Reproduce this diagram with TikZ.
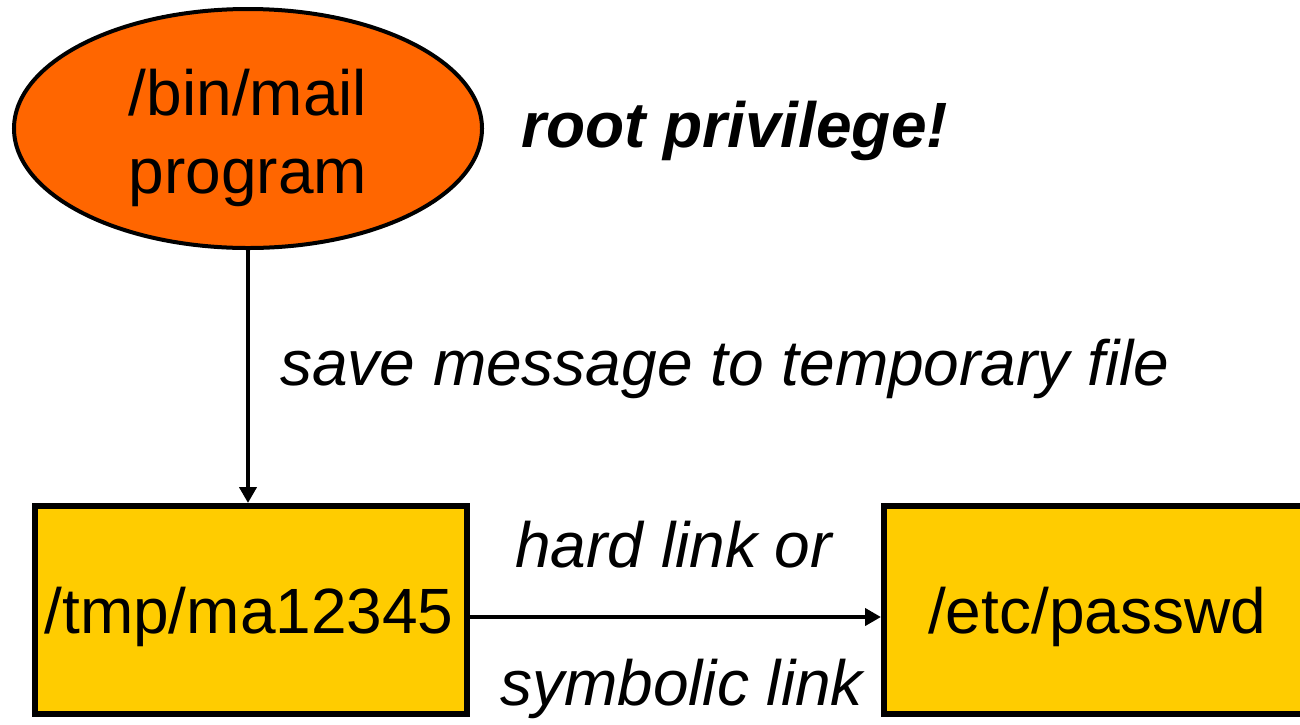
\documentclass[tikz,border=0pt]{standalone}
\usepackage{fontspec}
\setmainfont{Liberation Sans}
\usetikzlibrary{shapes.geometric,arrows.meta}
\definecolor{mailorange}{HTML}{FF6600}
\definecolor{fileyellow}{HTML}{FFCC00}
\tikzset{
  bigfont/.style={font=\fontsize{64}{78}\selectfont},
  prog/.style={ellipse,draw=black,line width=4pt,fill=mailorange,inner sep=0pt,minimum width=468pt,minimum height=239pt},
  filebox/.style={rectangle,draw=black,line width=6pt,fill=fileyellow,inner sep=0pt,minimum height=208pt},
  txt/.style={bigfont,inner sep=0pt,anchor=base},
  lbl/.style={bigfont,inner sep=0pt,anchor=base west},
  conn/.style={line width=4pt,-{Triangle[length=16pt,width=17pt]}},
}
\begin{document}
\begin{tikzpicture}[x=1pt,y=-1pt]
\clip (0,0) rectangle (1300,724);
\fill[white] (0,0) rectangle (1300,724);
% nodes
\node[prog] (mail) at (248,128.5) {};
\node[txt] (mailA) at (248,115) {/bin/mail};
\node[txt] (mailB) at (248,193) {program};
\node[filebox,minimum width=432pt] (tmp) at (251,610) {};
\node[txt] (tmpT) at (249,633) {/tmp/ma12345};
\node[filebox,minimum width=436pt] (pw) at (1102,610) {};
\node[txt] (pwT) at (1097,633) {/etc/passwd};
% labels
\node[lbl,font=\fontsize{64}{78}\selectfont\bfseries\itshape] (root) at (521,147) {root privilege!};
\node[lbl,font=\fontsize{64}{78}\selectfont\itshape] (save) at (280,385) {save message to temporary file};
\node[lbl,font=\fontsize{64}{78}\selectfont\itshape] (hard) at (515,567) {hard link or};
\node[lbl,font=\fontsize{64}{78}\selectfont\itshape] (sym) at (500,705) {symbolic link};
% connectors
\coordinate (h1) at (tmp.east |- 0,617);
\coordinate (h2) at (pw.west |- 0,617);
\draw[conn] (mail.south) -- (mail.south |- tmp.north);
\draw[conn] (h1) -- (h2);
\end{tikzpicture}
\end{document}
